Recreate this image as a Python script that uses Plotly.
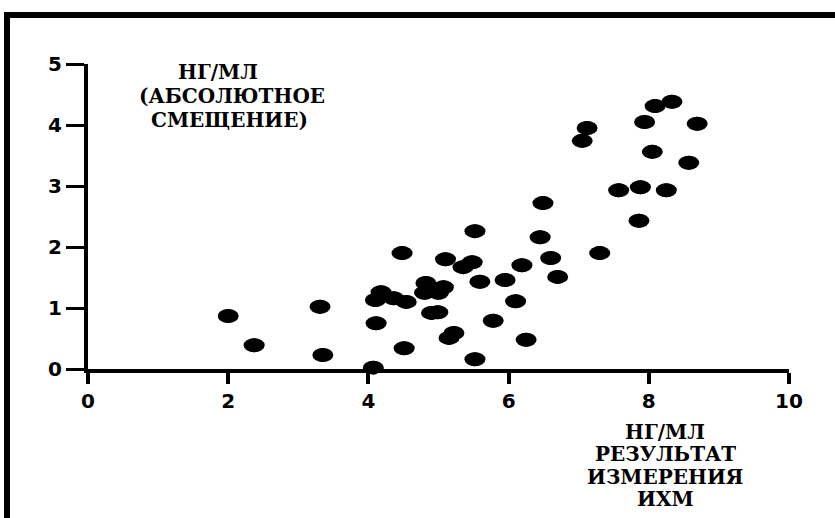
import plotly.graph_objects as go

# ---- data ----
x_vals = [2.00, 2.37, 3.31, 3.35, 4.07, 4.11, 4.10, 4.18, 4.36, 4.48, 4.51, 4.54,
          4.80, 4.82, 4.90, 4.99, 5.00, 5.07, 5.10, 5.15, 5.22, 5.35, 5.48, 5.52,
          5.52, 5.59, 5.78, 5.95, 6.10, 6.19, 6.25, 6.45, 6.49, 6.60, 6.70, 7.05,
          7.12, 7.30, 7.57, 7.86, 7.88, 7.94, 8.05, 8.09, 8.25, 8.33, 8.57, 8.69]
y_vals = [0.87, 0.39, 1.02, 0.23, 0.02, 0.75, 1.13, 1.26, 1.16, 1.90, 0.34, 1.10,
          1.25, 1.41, 0.92, 0.93, 1.25, 1.34, 1.80, 0.51, 0.59, 1.67, 1.75, 2.26,
          0.16, 1.43, 0.79, 1.46, 1.11, 1.70, 0.48, 2.16, 2.72, 1.82, 1.51, 3.74,
          3.95, 1.90, 2.93, 2.43, 2.98, 4.05, 3.56, 4.31, 2.93, 4.38, 3.38, 4.02]

x_ticks = [0, 2, 4, 6, 8, 10]
y_ticks = [0, 1, 2, 3, 4, 5]
y_title_lines = ["НГ/МЛ", "(АБСОЛЮТНОЕ", "СМЕЩЕНИЕ)"]
x_title_lines = ["НГ/МЛ", "РЕЗУЛЬТАТ", "ИЗМЕРЕНИЯ", "ИХМ"]

# ---- layout geometry (pixels) ----
W, H = 835, 518
L, R, T, B = 88, 46, 64, 149
PW, PH = W - L - R, H - T - B


def px(xp):
    return (xp - L) / PW


def py(yp):
    return (H - B - yp) / PH


fig = go.Figure()
fig.add_trace(go.Scatter(
    x=x_vals, y=y_vals, mode="markers",
    marker=dict(symbol="circle", size=14, color="black", line=dict(width=0)),
    cliponaxis=False, showlegend=False, hoverinfo="x+y",
))

shapes = []
# elliptical dots (the reference is horizontally stretched)
for xv, yv in zip(x_vals, y_vals):
    shapes.append(dict(type="circle", xref="x", yref="y",
                       xsizemode="pixel", ysizemode="pixel",
                       xanchor=xv, yanchor=yv, x0=-10.5, x1=10.5, y0=-7, y1=7,
                       fillcolor="black", line=dict(width=0), layer="above"))
# frame lines
shapes.append(dict(type="line", xref="paper", yref="paper",
                   x0=px(4), x1=px(840), y0=py(15), y1=py(15),
                   line=dict(color="black", width=6)))
shapes.append(dict(type="line", xref="paper", yref="paper",
                   x0=px(7), x1=px(7), y0=py(12), y1=py(530),
                   line=dict(color="black", width=6)))

title_font = dict(family="DejaVu Serif", size=20, color="black", weight="bold")
annotations = []
for txt, (cx, cy) in zip(y_title_lines, [(218, 71.5), (232, 96), (229, 120)]):
    annotations.append(dict(text=txt, xref="paper", yref="paper", x=px(cx), y=py(cy),
                            xanchor="center", yanchor="middle", showarrow=False,
                            height=22, valign="middle", font=title_font))
for txt, cy in zip(x_title_lines, [431.5, 453, 476, 498]):
    annotations.append(dict(text=txt, xref="paper", yref="paper", x=px(665), y=py(cy),
                            xanchor="center", yanchor="middle", showarrow=False,
                            height=19, valign="middle", font=title_font))

tick_font = dict(family="DejaVu Sans", size=20, color="black", weight="bold")
fig.update_layout(
    width=W, height=H, autosize=False,
    margin=dict(l=L, r=R, t=T, b=B, pad=0),
    paper_bgcolor="white", plot_bgcolor="white",
    shapes=shapes, annotations=annotations,
    xaxis=dict(range=[0, 10], tickvals=x_ticks, ticktext=[str(v) for v in x_ticks],
               showgrid=False, zeroline=False, showline=True, linewidth=4,
               linecolor="black", ticks="outside", ticklen=11, tickwidth=4,
               tickcolor="black", tickfont=tick_font, fixedrange=True),
    yaxis=dict(range=[0, 5], tickvals=y_ticks, ticktext=[str(v) for v in y_ticks],
               showgrid=False, zeroline=False, showline=True, linewidth=4,
               linecolor="black", ticks="outside", ticklen=18, tickwidth=3,
               tickcolor="black", tickfont=tick_font, fixedrange=True),
)

fig.write_html("out.html")
